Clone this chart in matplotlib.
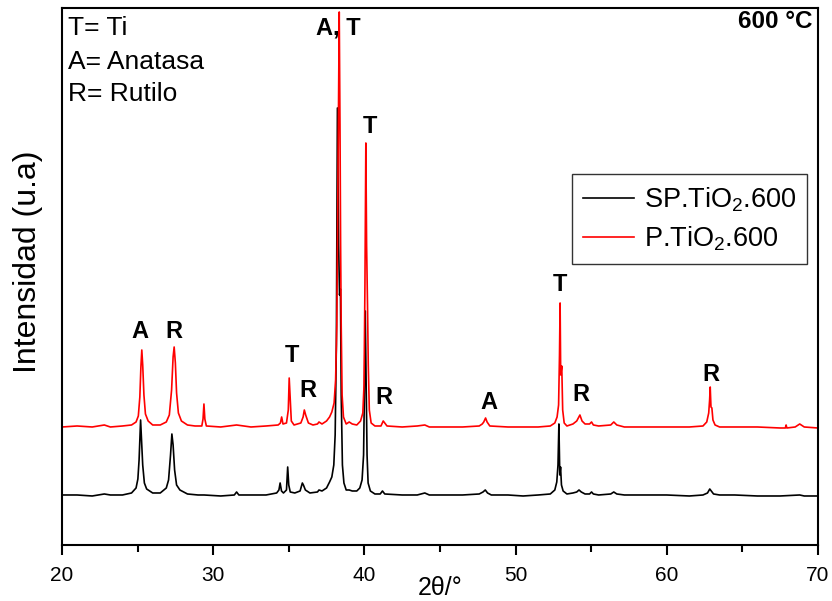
import matplotlib
matplotlib.use("Agg")
import matplotlib.pyplot as plt
from matplotlib.ticker import MultipleLocator

plt.rcParams['font.family'] = ['Liberation Sans', 'DejaVu Sans']
plt.rcParams['mathtext.fontset'] = 'custom'
plt.rcParams['mathtext.rm'] = 'Liberation Sans'

# ---- data (2theta in degrees, intensity in arbitrary units) ----
red_2theta = [20.0, 21.0, 22.0, 22.8, 23.2, 24.0, 24.6, 24.9, 25.05, 25.15, 25.22, 25.28, 25.34, 25.42,
              25.52, 25.7, 26.0, 26.5, 26.9, 27.1, 27.25, 27.35, 27.42, 27.5, 27.58, 27.7, 27.9, 28.3,
              28.8, 29.25, 29.33, 29.39, 29.45, 29.55, 30.5, 31.55, 32.5, 33.5, 34.3, 34.45, 34.53,
              34.62, 34.85, 34.97, 35.03, 35.09, 35.17, 35.35, 35.8, 35.95, 36.03, 36.12, 36.3, 36.6,
              36.9, 37.0, 37.2, 37.5, 37.7, 37.85, 38.0, 38.1, 38.18, 38.26, 38.34, 38.39, 38.43,
              38.47, 38.53, 38.62, 38.8, 39.0, 39.2, 39.5, 39.75, 39.9, 39.98, 40.04, 40.1, 40.15,
              40.21, 40.26, 40.33, 40.45, 40.7, 41.1, 41.25, 41.35, 41.5, 42.5, 43.5, 44.0, 44.3,
              45.5, 46.5, 47.6, 47.8, 47.9, 48.02, 48.12, 48.3, 49.5, 50.5, 51.5, 52.3, 52.6, 52.75,
              52.85, 52.91, 52.95, 52.99, 53.06, 53.12, 53.22, 53.4, 53.8, 54.05, 54.26, 54.4, 54.6,
              54.9, 55.03, 55.15, 55.5, 56.3, 56.5, 56.7, 57.2, 58.5, 60.0, 61.5, 62.4, 62.65, 62.78,
              62.84, 62.88, 62.93, 62.99, 63.06, 63.2, 63.5, 64.5, 66.0, 67.5, 67.85, 67.9, 67.95,
              68.5, 68.8, 69.1, 70.0]
red_int = [118, 119, 118, 120, 118, 119, 120, 123, 129, 148, 178, 195, 180, 150,
           131, 124, 120, 120, 123, 130, 155, 188, 198, 182, 152, 132, 124, 120,
           119, 119, 126, 141, 126, 119, 118, 120, 118, 119, 120, 122, 128,
           121, 122, 135, 167, 148, 124, 120, 122, 128, 135, 130, 122, 120,
           121, 123, 121, 124, 128, 133, 142, 165, 220, 380, 533, 420, 302,
           220, 150, 128, 121, 123, 121, 120, 124, 132, 160, 260, 402, 300,
           240, 180, 135, 122, 119, 119, 124, 122, 119, 118, 119, 120, 118,
           118, 118, 119, 121, 123, 127, 123, 119, 118, 118, 118, 119, 122, 128,
           140, 190, 242, 170, 179, 135, 122, 119, 121, 124, 130, 124, 121,
           121, 123, 120, 119, 120, 123, 120, 118, 118, 118, 118, 119, 123, 132,
           145, 158, 138, 137, 125, 120, 118, 118, 118, 117, 117, 120, 117,
           118, 121, 118, 117]

black_2theta = [20.0, 21.0, 22.0, 22.8, 23.2, 24.0, 24.6, 24.9, 25.02, 25.1, 25.16, 25.2, 25.26, 25.34,
                25.45, 25.6, 26.0, 26.5, 26.9, 27.05, 27.18, 27.27, 27.35, 27.45, 27.58, 27.8, 28.3,
                29.0, 29.4, 30.5, 31.4, 31.55, 31.7, 32.5, 33.5, 34.2, 34.35, 34.43, 34.52, 34.65,
                34.85, 34.93, 35.0, 35.1, 35.4, 35.75, 35.9, 35.97, 36.1, 36.4, 36.9, 37.0, 37.2,
                37.5, 37.7, 37.85, 37.98, 38.07, 38.15, 38.22, 38.3, 38.36, 38.42, 38.47, 38.55,
                38.65, 38.8, 39.0, 39.2, 39.5, 39.7, 39.85, 39.95, 40.02, 40.06, 40.12, 40.18, 40.25,
                40.4, 40.7, 41.05, 41.2, 41.35, 42.5, 43.5, 44.0, 44.3, 45.5, 46.5, 47.6, 47.85, 48.0,
                48.15, 48.4, 49.5, 50.5, 51.5, 52.3, 52.6, 52.73, 52.81, 52.87, 52.93, 52.98, 53.04,
                53.15, 53.4, 53.8, 54.05, 54.2, 54.35, 54.6, 54.9, 55.03, 55.15, 55.5, 56.3, 56.5,
                56.7, 57.2, 58.5, 60.0, 61.5, 62.4, 62.7, 62.85, 62.95, 63.1, 63.5, 64.5, 66.0, 67.5,
                68.8, 69.1, 70.0]
black_int = [50, 50, 49, 51, 50, 50, 52, 57, 66, 85, 110, 125, 105, 80,
             62, 56, 52, 52, 57, 65, 90, 111, 100, 75, 60, 55, 51,
             50, 50, 49, 50, 53, 50, 50, 50, 52, 55, 62, 54, 52,
             55, 78, 60, 53, 52, 54, 62, 60, 55, 52, 53, 55, 54,
             57, 63, 68, 80, 110, 200, 437, 300, 250, 256, 150, 80,
             62, 55, 55, 54, 54, 57, 65, 90, 170, 234, 160, 90, 62,
             54, 51, 51, 54, 51, 50, 50, 52, 50, 50, 50, 51, 53, 55,
             52, 50, 50, 49, 50, 51, 55, 63, 80, 121, 70, 78, 60,
             54, 51, 52, 53, 55, 53, 51, 51, 53, 51, 50, 51, 53,
             51, 50, 50, 50, 49, 50, 52, 56, 54, 51, 50, 50, 49, 49,
             50, 49, 49]

series_labels = ['SP.TiO$_2$.600', 'P.TiO$_2$.600']
series_colors = ['black', 'red']

peak_labels = ['A', 'R', 'T', 'R', 'A, T', 'T', 'R', 'A', 'T', 'R', 'R']
peak_label_x = [25.16, 27.41, 35.21, 36.27, 38.25, 40.37, 41.30, 48.24, 52.94, 54.33, 62.92]
peak_label_y = [213, 213, 189, 154, 517, 418, 147, 142, 260, 150, 170]

x_ticks = [20, 30, 40, 50, 60, 70]

# ---- figure ----
fig = plt.figure(figsize=(8.32, 6.01), dpi=100)
ax = fig.add_axes([0.0745, 0.0932, 0.9085, 0.8935])

ax.plot(black_2theta, black_int, color=series_colors[0], lw=1.2, label=series_labels[0])
ax.plot(red_2theta, red_int, color=series_colors[1], lw=1.2, label=series_labels[1])

ax.set_xlim(20, 70)
ax.set_ylim(0, 537)
ax.set_xticks(x_ticks)
ax.xaxis.set_minor_locator(MultipleLocator(5))
ax.set_yticks([])
ax.tick_params(axis='x', which='major', direction='out', length=7, width=1.5,
               labelsize=15, pad=8)
ax.tick_params(axis='x', which='minor', direction='out', length=5, width=1.5)
for sp in ax.spines.values():
    sp.set_linewidth(1.5)

ax.set_xlabel('2\u03b8/\u00b0', fontsize=18, labelpad=-6)
ax.set_ylabel('Intensidad (u.a)', fontsize=23)
ax.yaxis.set_label_coords(-0.025, 0.527)

for t, x, y in zip(peak_labels, peak_label_x, peak_label_y):
    ax.text(x, y, t, fontsize=17, fontweight='bold', ha='center', va='center')

ax.text(0.008, 0.962, 'T= Ti', transform=ax.transAxes, fontsize=19, va='center', ha='left')
ax.text(0.008, 0.900, 'A= Anatasa', transform=ax.transAxes, fontsize=19, va='center', ha='left')
ax.text(0.008, 0.839, 'R= Rutilo', transform=ax.transAxes, fontsize=19, va='center', ha='left')
ax.text(0.993, 0.975, '600 \u00b0C', transform=ax.transAxes, fontsize=17.5, fontweight='bold',
        va='center', ha='right')

leg = ax.legend(loc='upper right', bbox_to_anchor=(0.986, 0.69), fontsize=19.5, frameon=True,
                fancybox=False, edgecolor='black', handlelength=1.9, handletextpad=0.35,
                borderpad=0.4, labelspacing=0.4, borderaxespad=0)
leg.get_frame().set_linewidth(1.0)

fig.savefig('out.png', dpi=100)
